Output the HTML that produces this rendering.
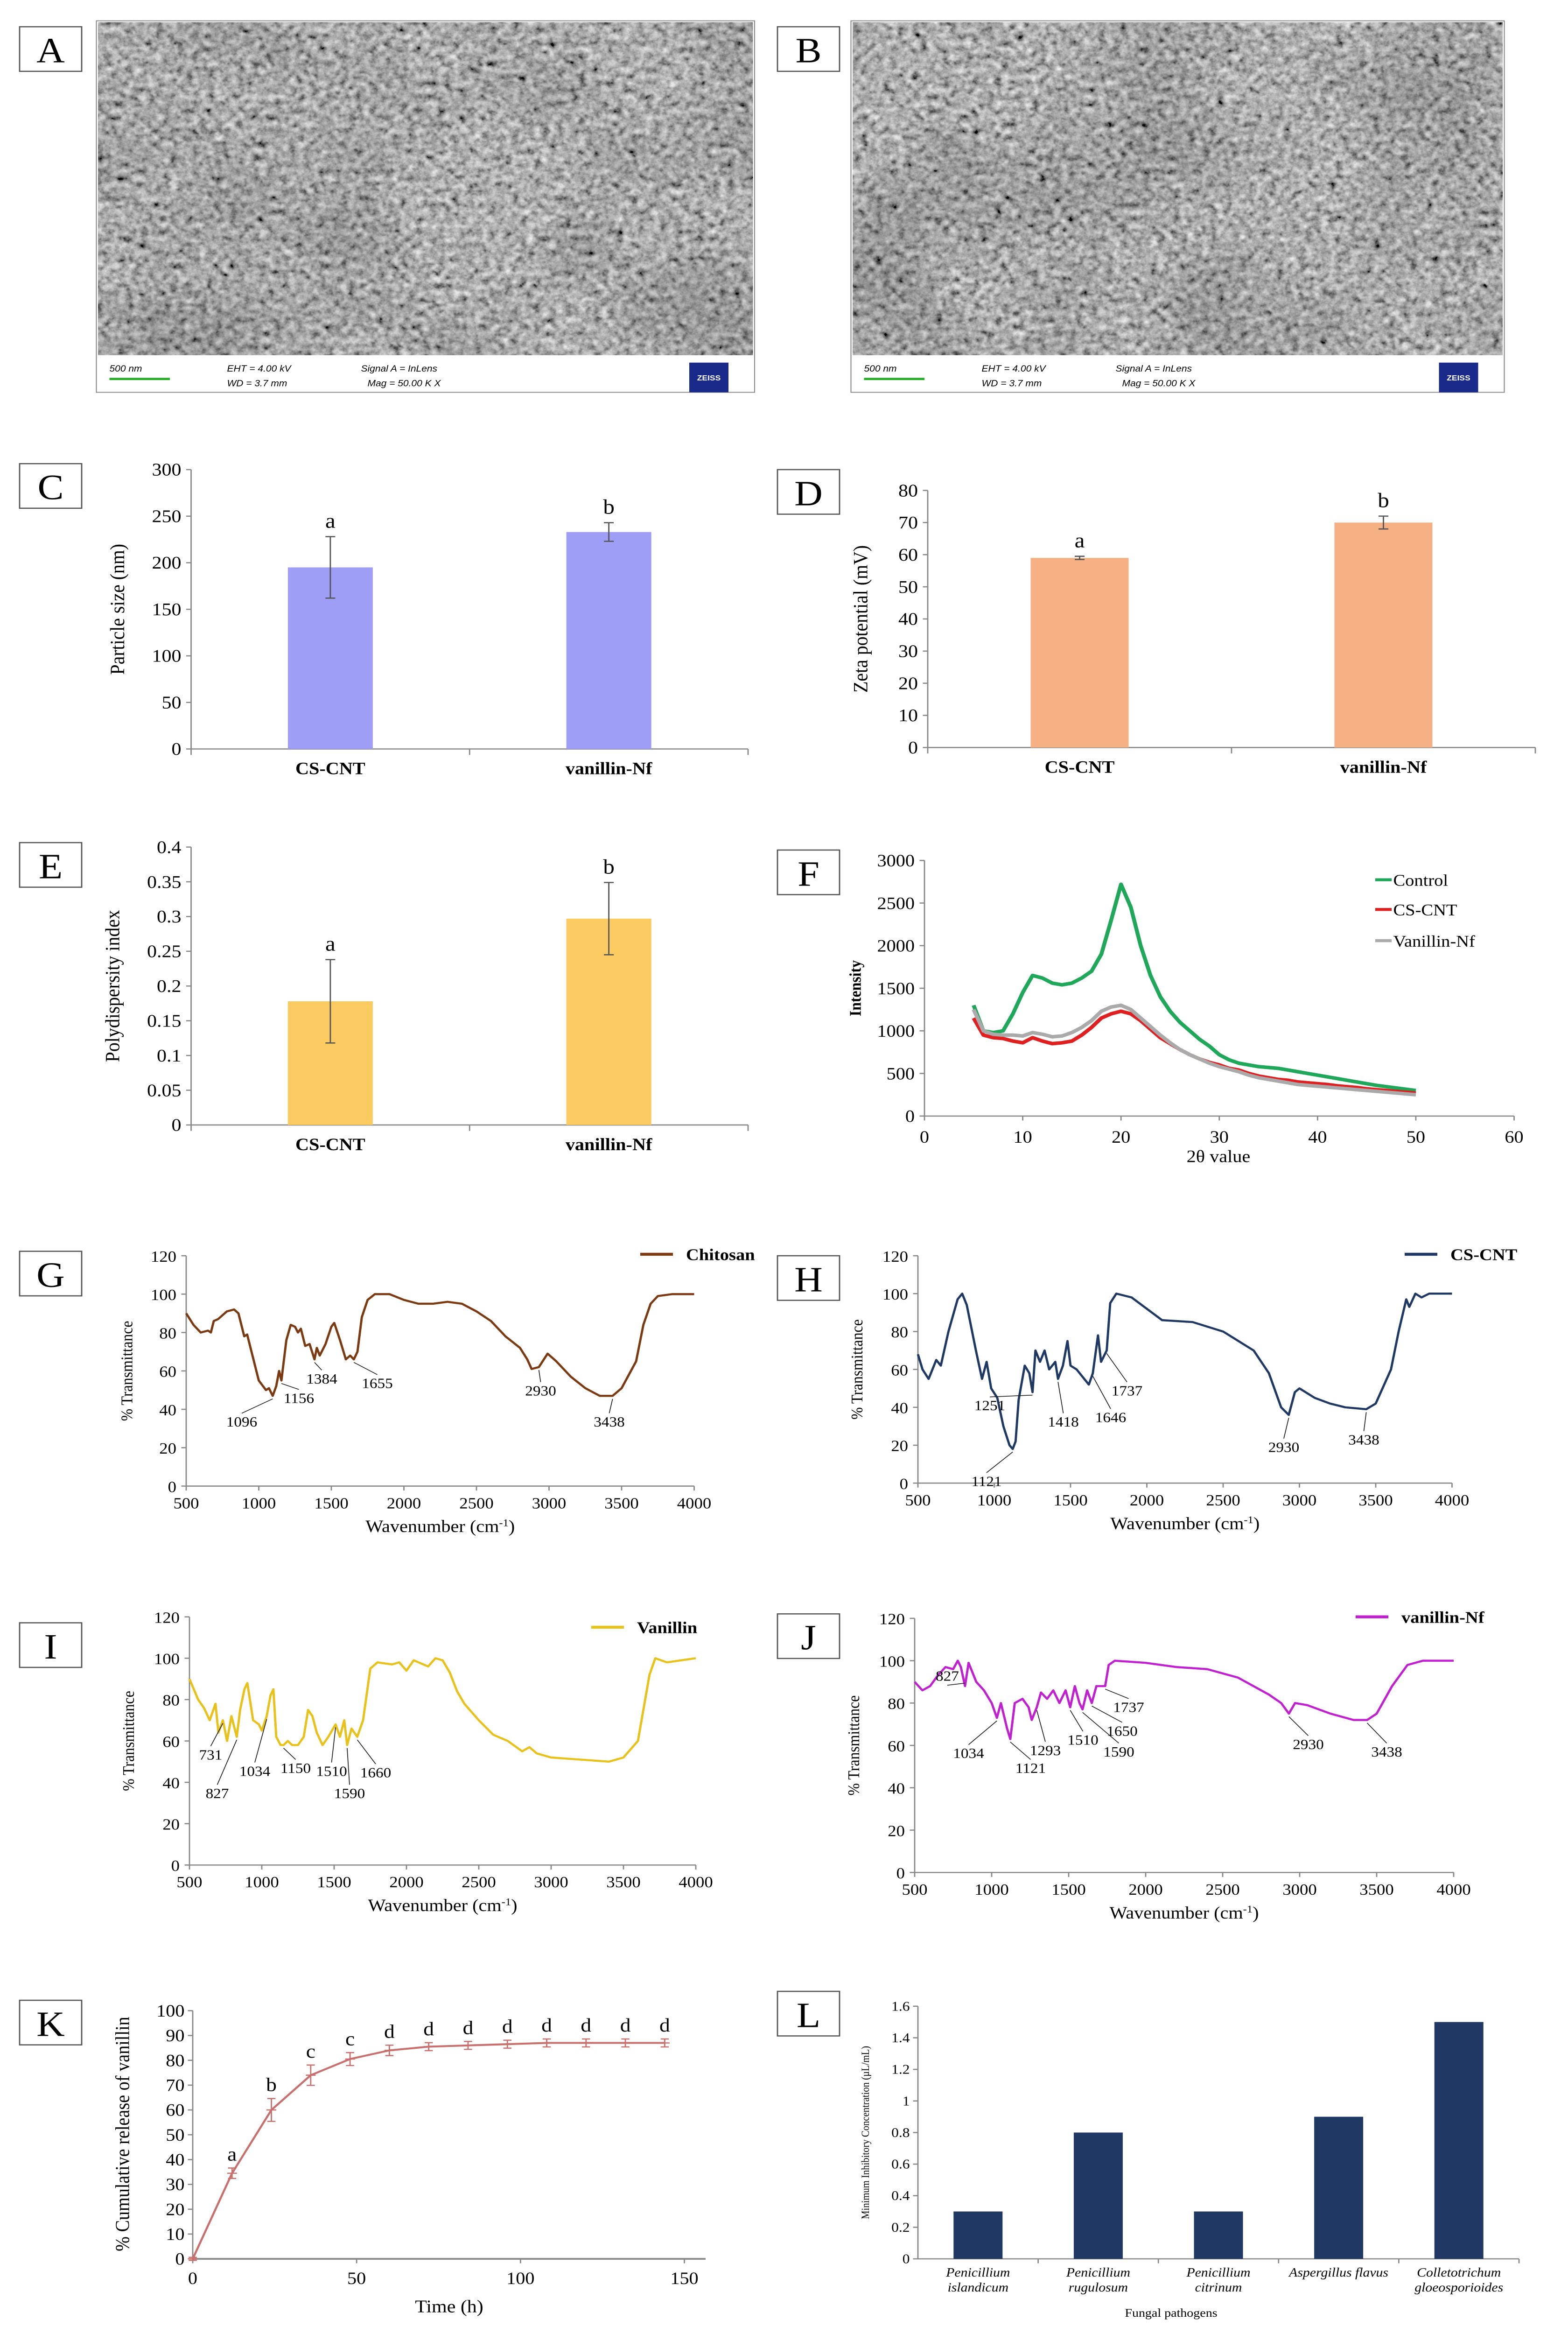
<!DOCTYPE html>
<html><head><meta charset="utf-8">
<style>
html,body{margin:0;padding:0;background:#fff;overflow:hidden;width:100%;height:100%;}
svg{display:block;font-family:"Liberation Serif",serif;width:100vw;height:100vh;}
</style></head>
<body>
<svg id="fig" xmlns="http://www.w3.org/2000/svg" viewBox="0 0 960 1570.57" preserveAspectRatio="none">
<defs>
<filter id="sem" x="0" y="0" width="100%" height="100%">
<feTurbulence type="fractalNoise" baseFrequency="0.22" numOctaves="3" seed="4" result="n"/>
<feColorMatrix type="matrix" values="0.33 0.33 0.33 0 0  0.33 0.33 0.33 0 0  0.33 0.33 0.33 0 0  0 0 0 0 1" result="g"/>
<feComponentTransfer><feFuncR type="linear" slope="1.7" intercept="-0.42"/><feFuncG type="linear" slope="1.7" intercept="-0.42"/><feFuncB type="linear" slope="1.7" intercept="-0.42"/></feComponentTransfer>
</filter>
<filter id="sem2" x="0" y="0" width="100%" height="100%">
<feTurbulence type="fractalNoise" baseFrequency="0.012" numOctaves="2" seed="9"/>
<feColorMatrix type="matrix" values="0 0 0 0 0  0 0 0 0 0  0 0 0 0 0  0.9 0 0 0 -0.35"/>
</filter>
</defs>
<g id="root"></g>
</svg>
<script>
// ---------- data ----------
const barCats = ['CS-CNT', 'vanillin-Nf'];
const sizeVals = [195, 233];
const sizeErr = [33, 10];
const sizeLetters = ['a', 'b'];
const sizeTicks = [0, 50, 100, 150, 200, 250, 300];
const zetaVals = [59, 70];
const zetaErr = [0.5, 2];
const zetaLetters = ['a', 'b'];
const zetaTicks = [0, 10, 20, 30, 40, 50, 60, 70, 80];
const pdiVals = [0.178, 0.297];
const pdiErr = [0.06, 0.052];
const pdiLetters = ['a', 'b'];
const pdiTicks = [0, 0.05, 0.1, 0.15, 0.2, 0.25, 0.3, 0.35, 0.4];

const xrdTheta = [5,6,7,8,9,10,11,12,13,14,15,16,17,18,19,20,21,22,23,24,25,26,27,28,29,30,31,32,33,34,35,36,37,38,39,40,41,42,43,44,45,46,47,48,49,50];
const xrdControl = [1300,1000,980,1000,1200,1450,1650,1620,1560,1540,1560,1620,1700,1900,2300,2720,2450,2000,1650,1400,1230,1100,1000,900,820,720,660,620,600,580,570,560,540,520,500,480,460,440,420,400,380,360,345,330,315,300];
const xrdCSCNT = [1150,950,920,910,880,860,920,880,850,860,880,950,1040,1150,1200,1230,1200,1120,1020,920,850,780,720,670,630,600,560,540,500,470,450,430,420,400,390,380,370,355,345,335,320,310,300,290,280,270];
const xrdVan = [1250,1000,960,950,950,940,980,960,930,940,980,1040,1120,1230,1280,1300,1250,1150,1050,950,860,780,720,670,620,580,550,520,480,450,430,410,390,370,360,350,340,330,320,310,300,290,280,270,260,250];
const xrdTicksY = [0,500,1000,1500,2000,2500,3000];
const xrdTicksX = [0,10,20,30,40,50,60];

const chitWn = [500,550,600,650,670,690,720,780,830,860,900,920,950,1000,1050,1070,1096,1120,1140,1156,1190,1220,1250,1270,1290,1320,1350,1384,1400,1420,1460,1500,1520,1560,1600,1630,1655,1680,1710,1750,1800,1900,2000,2100,2200,2300,2400,2500,2600,2700,2800,2850,2880,2930,2990,3050,3150,3250,3350,3438,3500,3600,3650,3700,3750,3850,4000];
const chitT = [90,84,80,81,80,86,87,91,92,90,78,79,70,55,50,51,47,52,60,55,76,84,83,80,82,73,74,66,72,68,74,83,85,76,66,68,66,70,88,97,100,100,97,95,95,96,95,91,86,78,72,66,61,62,69,65,57,51,47,47,51,65,84,95,99,100,100];
const chitPeaks = ['1096','1156','1384','1655','2930','3438'];

const cntWn = [500,530,570,620,650,700,760,790,820,850,880,920,950,980,1020,1060,1100,1121,1140,1160,1200,1230,1251,1270,1300,1330,1360,1400,1418,1450,1480,1500,1540,1580,1620,1646,1680,1700,1737,1760,1800,1900,2000,2100,2300,2500,2600,2700,2800,2880,2930,2970,3000,3100,3200,3300,3438,3500,3600,3650,3700,3720,3760,3800,3850,4000];
const cntT = [68,60,55,65,62,80,97,100,94,82,70,55,64,50,45,30,20,18,22,44,62,58,48,70,64,70,60,64,55,62,75,62,60,56,52,58,78,64,70,95,100,98,92,86,85,80,75,70,58,40,36,48,50,45,42,40,39,42,60,80,97,93,100,98,100,100];
const cntPeaks = ['1121','1251','1418','1646','1737','2930','3438'];

const vanWn = [500,530,560,600,640,680,700,731,760,790,827,850,880,900,940,980,1000,1034,1060,1080,1100,1130,1150,1180,1210,1250,1290,1320,1350,1380,1420,1460,1510,1540,1570,1590,1620,1660,1700,1750,1800,1900,1950,2000,2050,2150,2200,2250,2300,2350,2400,2500,2600,2700,2800,2850,2900,3000,3200,3400,3500,3600,3680,3720,3800,3900,4000];
const vanT = [90,85,80,76,70,78,64,70,60,72,62,75,85,88,70,68,65,72,82,85,62,58,58,60,58,58,62,75,72,64,58,62,68,62,70,58,66,62,70,95,98,97,98,94,99,96,100,99,93,84,78,70,63,60,55,57,54,52,51,50,52,60,92,100,98,99,100];
const vanPeaks = ['731','827','1034','1150','1510','1590','1660'];

const nfWn = [500,550,600,650,700,750,780,800,827,850,900,950,1000,1034,1060,1100,1121,1150,1200,1240,1260,1293,1320,1360,1400,1440,1480,1510,1540,1570,1590,1620,1650,1680,1737,1760,1800,2000,2200,2400,2600,2700,2800,2880,2930,2970,3050,3200,3350,3438,3500,3600,3700,3800,4000];
const nfT = [90,86,88,93,97,96,100,97,88,99,90,86,80,73,80,68,63,80,82,78,72,78,85,82,86,80,86,78,88,80,77,86,80,88,88,98,100,99,97,96,92,88,84,80,75,80,79,75,72,72,75,88,98,100,100];
const nfPeaks = ['827','1034','1121','1293','1510','1590','1650','1737','2930','3438'];

const ftirTicksX = [500,1000,1500,2000,2500,3000,3500,4000];
const ftirTicksY = [0,20,40,60,80,100,120];

const relTime = [0,12,24,36,48,60,72,84,96,108,120,132,144];
const relVals = [0,34.5,60,74,80.5,84,85.5,86,86.5,87,87,87,87];
const relErr = [0,1.5,4,3.5,2,1.5,1,1,1,1,1,1,1];
const relLetters = ['','a','b','c','c','d','d','d','d','d','d','d','d'];
const relTicksY = [0,10,20,30,40,50,60,70,80,90,100];
const relTicksX = [0,50,100,150];

const micCats = [['Penicillium','islandicum'],['Penicillium','rugulosum'],['Penicillium','citrinum'],['Aspergillus flavus'],['Colletotrichum','gloeosporioides']];
const micVals = [0.3, 0.8, 0.3, 0.9, 1.5];
const micTicks = [0,0.2,0.4,0.6,0.8,1,1.2,1.4,1.6];

// ---------- helpers ----------
const NS = 'http://www.w3.org/2000/svg';
const root = document.getElementById('root');
function mk(tag, attrs, parent) {
  const el = document.createElementNS(NS, tag);
  for (const k in attrs) el.setAttribute(k, attrs[k]);
  (parent || root).appendChild(el);
  return el;
}
function nm(el, name, inter) {
  
  
  return el;
}
function txt(x, y, s, opt, parent) {
  opt = opt || {};
  const t = mk('text', {x: x, y: y, 'font-size': opt.size || 11, 'text-anchor': opt.anchor || 'middle', fill: opt.fill || '#000', 'font-weight': opt.weight || 'normal', 'font-style': opt.style || 'normal', 'font-family': opt.family || '"Liberation Serif", serif'}, parent);
  if (opt.rot) t.setAttribute('transform', 'rotate(-90 ' + x + ' ' + y + ')');
  t.textContent = s;
  return t;
}
function panelLabel(x, y, L) {
  const g = mk('g', {});
  nm(g, 'panel-label-' + L.toLowerCase(), false);
  mk('rect', {x: x, y: y, width: 38, height: 30, fill: '#fff', stroke: '#555', 'stroke-width': 0.8}, g);
  txt(x + 19, y + 24, L, {size: 24}, g);
}
function lin(v, d0, d1, p0, p1) { return p0 + (v - d0) / (d1 - d0) * (p1 - p0); }
function fmt(v) { return String(Math.round(v * 1000) / 1000); }

// ---------- SEM images ----------
function sem(x, y, w, h, L) {
  const g = mk('g', {});
  nm(g, 'sem-image-' + L.toLowerCase(), false);
  mk('rect', {x: x, y: y, width: w, height: h, fill: '#fff', stroke: '#888', 'stroke-width': 0.6}, g);
  mk('rect', {x: x + 1, y: y + 1, width: w - 2, height: 224, fill: '#666', filter: 'url(#sem)'}, g);
  mk('rect', {x: x + 1, y: y + 1, width: w - 2, height: 224, fill: '#000', filter: 'url(#sem2)', opacity: 0.4}, g);
  const by = y + 228;
  const sf = '"Liberation Sans", sans-serif';
  txt(x + 8, by + 8, '500 nm', {size: 6, anchor: 'start', family: sf, style: 'italic'}, g);
  mk('line', {x1: x + 8, y1: by + 13, x2: x + 45, y2: by + 13, stroke: '#2a2', 'stroke-width': 1.5}, g);
  txt(x + 80, by + 8, 'EHT =  4.00 kV', {size: 6, anchor: 'start', family: sf, style: 'italic'}, g);
  txt(x + 80, by + 18, 'WD =  3.7 mm', {size: 6, anchor: 'start', family: sf, style: 'italic'}, g);
  txt(x + 162, by + 8, 'Signal A = InLens', {size: 6, anchor: 'start', family: sf, style: 'italic'}, g);
  txt(x + 166, by + 18, 'Mag =  50.00 K X', {size: 6, anchor: 'start', family: sf, style: 'italic'}, g);
  const z = mk('rect', {x: x + w - 40, y: by + 2, width: 24, height: 20, fill: '#1a2a8a'}, g);
  nm(z, 'zeiss-logo', false);
  txt(x + w - 28, by + 14, 'ZEISS', {size: 5, fill: '#fff', weight: 'bold', family: sf}, g);
}
sem(59, 14, 403, 250, 'A');
sem(521, 14, 400, 250, 'B');
panelLabel(12, 18, 'A');
panelLabel(476, 18, 'B');

// ---------- bar charts ----------
function barChart(o) {
  const g = mk('g', {});
  nm(g, o.name, false);
  const ymax = o.ticks[o.ticks.length - 1];
  const Y = v => lin(v, 0, ymax, o.y0, o.y1);
  const n = o.vals.length;
  const cw = (o.x1 - o.x0) / n;
  o.ticks.forEach(t => {
    const tl = txt(o.x0 - 6, Y(t) + 4, fmt(t), {size: 12, anchor: 'end'}, g);
    nm(tl, 'y-tick-label', false);
    mk('line', {x1: o.x0 - 3, y1: Y(t), x2: o.x0, y2: Y(t), stroke: '#888', 'stroke-width': 0.8}, g);
  });
  const ax = mk('line', {x1: o.x0, y1: o.y1, x2: o.x0, y2: o.y0, stroke: '#888', 'stroke-width': 0.8}, g);
  nm(ax, 'y-axis', false);
  const bx = mk('line', {x1: o.x0, y1: o.y0, x2: o.x1, y2: o.y0, stroke: '#888', 'stroke-width': 0.8}, g);
  nm(bx, 'x-axis', false);
  for (let i = 0; i <= n; i++) mk('line', {x1: o.x0 + i * cw, y1: o.y0, x2: o.x0 + i * cw, y2: o.y0 + 4, stroke: '#888', 'stroke-width': 0.8}, g);
  o.vals.forEach((v, i) => {
    const cx = o.x0 + cw * (i + 0.5);
    const r = mk('rect', {x: cx - o.bw / 2, y: Y(v), width: o.bw, height: o.y0 - Y(v), fill: o.color}, g);
    nm(r, 'bar-' + o.cats[i].toLowerCase(), false);
    if (o.err) {
      const e = o.err[i];
      const eg = mk('path', {d: `M${cx} ${Y(v + e)}V${Y(v - e)}M${cx - 3} ${Y(v + e)}h6M${cx - 3} ${Y(v - e)}h6`, stroke: '#555', 'stroke-width': 0.8, fill: 'none'}, g);
      nm(eg, 'error-bar', false);
      const lt = txt(cx, Y(v + e) - 6, o.letters[i], {size: 14}, g);
      nm(lt, 'significance-letter', false);
    }
    const cl = txt(cx, o.y0 + 17, o.cats[i], {size: 11.5, weight: 'bold'}, g);
    nm(cl, 'x-category-label', false);
  });
  const yt = txt(o.tx, (o.y0 + o.y1) / 2, o.title, {size: 12.5, rot: true}, g);
  nm(yt, 'y-axis-title', false);
}
barChart({name: 'particle-size-chart', cats: barCats, vals: sizeVals, err: sizeErr, letters: sizeLetters, ticks: sizeTicks, x0: 117, x1: 458, y0: 504, y1: 316, bw: 52, color: '#9e9ef7', title: 'Particle size (nm)', tx: 76});
barChart({name: 'zeta-potential-chart', cats: barCats, vals: zetaVals, err: zetaErr, letters: zetaLetters, ticks: zetaTicks, x0: 568, x1: 940, y0: 503, y1: 330, bw: 60, color: '#f5b183', title: 'Zeta potential (mV)', tx: 531});
barChart({name: 'polydispersity-chart', cats: barCats, vals: pdiVals, err: pdiErr, letters: pdiLetters, ticks: pdiTicks, x0: 117, x1: 458, y0: 757, y1: 570, bw: 52, color: '#fbcb62', title: 'Polydispersity index', tx: 73});
panelLabel(12, 312, 'C');
panelLabel(476, 316, 'D');
panelLabel(12, 567, 'E');

// ---------- XRD chart ----------
(function () {
  const g = mk('g', {});
  nm(g, 'xrd-chart', false);
  const x0 = 566, x1 = 927, y0 = 751, y1 = 579;
  const X = v => lin(v, 0, 60, x0, x1), Y = v => lin(v, 0, 3000, y0, y1);
  xrdTicksY.forEach(t => {
    const l = txt(x0 - 6, Y(t) + 4, String(t), {size: 11.5, anchor: 'end'}, g);
    nm(l, 'y-tick-label', false);
    mk('line', {x1: x0 - 3, y1: Y(t), x2: x0, y2: Y(t), stroke: '#888', 'stroke-width': 0.8}, g);
  });
  xrdTicksX.forEach(t => {
    const l = txt(X(t), y0 + 18, String(t), {size: 11.5}, g);
    nm(l, 'x-tick-label', false);
    mk('line', {x1: X(t), y1: y0, x2: X(t), y2: y0 + 3, stroke: '#888', 'stroke-width': 0.8}, g);
  });
  mk('line', {x1: x0, y1: y0, x2: x0, y2: y1, stroke: '#888', 'stroke-width': 0.8}, g);
  mk('line', {x1: x0, y1: y0, x2: x1, y2: y0, stroke: '#888', 'stroke-width': 0.8}, g);
  const series = [[xrdControl, '#1fa85a', 'control'], [xrdCSCNT, '#e02020', 'cs-cnt'], [xrdVan, '#aaaaaa', 'vanillin-nf']];
  series.forEach(s => {
    const p = mk('polyline', {points: xrdTheta.map((t, i) => X(t) + ',' + Y(s[0][i])).join(' '), fill: 'none', stroke: s[1], 'stroke-width': 2.4, 'stroke-linejoin': 'round'}, g);
    nm(p, 'xrd-line-' + s[2], false);
  });
  const leg = [['Control', '#1fa85a', 596], ['CS-CNT', '#e02020', 616], ['Vanillin-Nf', '#aaaaaa', 637]];
  leg.forEach(l => {
    const lg = mk('g', {}, g);
    nm(lg, 'legend-entry-' + l[0].toLowerCase(), false);
    mk('line', {x1: 842, y1: l[2] - 4, x2: 852, y2: l[2] - 4, stroke: l[1], 'stroke-width': 2}, lg);
    txt(853, l[2], l[0], {size: 11, anchor: 'start'}, lg);
  });
  const yt = txt(527, 665, 'Intensity', {size: 10, rot: true, weight: 'bold'}, g);
  nm(yt, 'y-axis-title', false);
  const xt = txt(746, 782, '2θ value', {size: 11.5}, g);
  nm(xt, 'x-axis-title', false);
})();
panelLabel(476, 572, 'F');

// ---------- FTIR charts ----------
function ftir(o) {
  const g = mk('g', {});
  nm(g, o.name, false);
  const X = v => lin(v, 500, 4000, o.x0, o.x1), Y = v => lin(v, 0, 120, o.y0, o.y1);
  ftirTicksY.forEach(t => {
    const l = txt(o.x0 - 6, Y(t) + 4, String(t), {size: 10.5, anchor: 'end'}, g);
    nm(l, 'y-tick-label', false);
    mk('line', {x1: o.x0 - 3, y1: Y(t), x2: o.x0, y2: Y(t), stroke: '#888', 'stroke-width': 0.8}, g);
  });
  ftirTicksX.forEach(t => {
    const l = txt(X(t), o.y0 + 15, String(t), {size: 10.5}, g);
    nm(l, 'x-tick-label', false);
    mk('line', {x1: X(t), y1: o.y0, x2: X(t), y2: o.y0 + 3, stroke: '#888', 'stroke-width': 0.8}, g);
  });
  mk('line', {x1: o.x0, y1: o.y0, x2: o.x0, y2: o.y1, stroke: '#888', 'stroke-width': 0.8}, g);
  mk('line', {x1: o.x0, y1: o.y0, x2: o.x1, y2: o.y0, stroke: '#888', 'stroke-width': 0.8}, g);
  const p = mk('polyline', {points: o.wn.map((w, i) => X(w) + ',' + Y(o.t[i])).join(' '), fill: 'none', stroke: o.color, 'stroke-width': 1.4, 'stroke-linejoin': 'round'}, g);
  nm(p, 'spectrum-line', false);
  const interp = w => { for (let i = 1; i < o.wn.length; i++) if (w <= o.wn[i]) return o.t[i - 1] + (o.t[i] - o.t[i - 1]) * (w - o.wn[i - 1]) / (o.wn[i] - o.wn[i - 1]); return o.t[o.t.length - 1]; };
  o.peaks.forEach((pk, i) => {
    const w = +pk, px = X(w), py = Y(interp(w));
    const lp = o.lpos[i];
    const ag = mk('g', {}, g);
    nm(ag, 'peak-annotation-' + pk, false);
    const ty = lp[1] < py ? lp[1] + 3 : lp[1] - 9;
    mk('line', {x1: lp[0], y1: ty, x2: px, y2: py + (lp[1] < py ? -2 : 2), stroke: '#222', 'stroke-width': 0.5}, ag);
    txt(lp[0], lp[1], pk, {size: 9.5}, ag);
  });
  const lg = mk('g', {}, g);
  nm(lg, 'legend-entry', false);
  mk('line', {x1: o.leg[0], y1: o.leg[1] - 4, x2: o.leg[0] + 20, y2: o.leg[1] - 4, stroke: o.color, 'stroke-width': 2}, lg);
  txt(o.leg[0] + 28, o.leg[1], o.label, {size: 11, anchor: 'start', weight: 'bold'}, lg);
  const yt = txt(o.tx, (o.y0 + o.y1) / 2, '% Transmittance', {size: 10, rot: true}, g);
  nm(yt, 'y-axis-title', false);
  const xt = txt((o.x0 + o.x1) / 2, o.y0 + 31, 'Wavenumber (cm', {size: 11.5}, g);
  nm(xt, 'x-axis-title', false);
  const sup = mk('tspan', {dy: -4, 'font-size': 7}, xt); sup.textContent = '-1';
  const cl = mk('tspan', {dy: 4}, xt); cl.textContent = ')';
}
ftir({name: 'ftir-chitosan-chart', wn: chitWn, t: chitT, peaks: chitPeaks, color: '#7b3a12', label: 'Chitosan', x0: 114, x1: 425, y0: 1000, y1: 845, tx: 81, leg: [392, 848],
  lpos: [[148, 960], [183, 944], [197, 931], [231, 934], [331, 939], [373, 960]]});
ftir({name: 'ftir-cs-cnt-chart', wn: cntWn, t: cntT, peaks: cntPeaks, color: '#1f3864', label: 'CS-CNT', x0: 562, x1: 889, y0: 998, y1: 845, tx: 528, leg: [860, 848],
  lpos: [[604, 1000], [606, 949], [651, 960], [680, 957], [690, 939], [786, 977], [835, 972]]});
ftir({name: 'ftir-vanillin-chart', wn: vanWn, t: vanT, peaks: vanPeaks, color: '#e8c21a', label: 'Vanillin', x0: 116, x1: 426, y0: 1255, y1: 1088, tx: 82, leg: [362, 1099],
  lpos: [[129, 1184], [133, 1210], [156, 1195], [181, 1193], [203, 1195], [214, 1210], [230, 1196]]});
ftir({name: 'ftir-vanillin-nf-chart', wn: nfWn, t: nfT, peaks: nfPeaks, color: '#c020d0', label: 'vanillin-Nf', x0: 560, x1: 890, y0: 1260, y1: 1089, tx: 526, leg: [830, 1092],
  lpos: [[580, 1131], [593, 1183], [631, 1193], [640, 1181], [663, 1174], [685, 1182], [687, 1168], [691, 1152], [801, 1177], [849, 1182]]});
panelLabel(12, 842, 'G');
panelLabel(476, 845, 'H');
panelLabel(12, 1092, 'I');
panelLabel(476, 1086, 'J');

// ---------- release chart ----------
(function () {
  const g = mk('g', {});
  nm(g, 'release-chart', false);
  const x0 = 118, y0 = 1520, y1 = 1353;
  const X = v => lin(v, 0, 150, x0, 419), Y = v => lin(v, 0, 100, y0, y1);
  relTicksY.forEach(t => {
    const l = txt(x0 - 5, Y(t) + 4, String(t), {size: 11.5, anchor: 'end'}, g);
    nm(l, 'y-tick-label', false);
    mk('line', {x1: x0 - 3, y1: Y(t), x2: x0, y2: Y(t), stroke: '#888', 'stroke-width': 0.8}, g);
  });
  relTicksX.forEach(t => {
    const l = txt(X(t), y0 + 17, String(t), {size: 11.5}, g);
    nm(l, 'x-tick-label', false);
    mk('line', {x1: X(t), y1: y0, x2: X(t), y2: y0 + 3, stroke: '#888', 'stroke-width': 0.8}, g);
  });
  mk('line', {x1: x0, y1: y0, x2: x0, y2: y1, stroke: '#888', 'stroke-width': 0.8}, g);
  mk('line', {x1: x0, y1: y0, x2: 432, y2: y0, stroke: '#888', 'stroke-width': 1.2}, g);
  const p = mk('polyline', {points: relTime.map((t, i) => X(t) + ',' + Y(relVals[i])).join(' '), fill: 'none', stroke: '#c8706e', 'stroke-width': 1.3}, g);
  nm(p, 'release-line', false);
  relTime.forEach((t, i) => {
    const cx = X(t), v = relVals[i], e = relErr[i];
    const m = mk('path', {d: `M${cx} ${Y(v + e) - 1}V${Y(v - e) + 1}M${cx - 2.5} ${Y(v + e) - 1}h5M${cx - 2.5} ${Y(v - e) + 1}h5M${cx - 3} ${Y(v)}h6`, stroke: '#c8706e', 'stroke-width': 0.8, fill: 'none'}, g);
    nm(m, 'release-point', false);
    if (relLetters[i]) {
      const l = txt(cx, Y(v + e) - 6, relLetters[i], {size: 13}, g);
      nm(l, 'significance-letter', false);
    }
  });
  const yt = txt(79, 1436, '% Cumulative release of vanillin', {size: 12, rot: true}, g);
  nm(yt, 'y-axis-title', false);
  const xt = txt(275, 1556, 'Time (h)', {size: 12}, g);
  nm(xt, 'x-axis-title', false);
})();
panelLabel(12, 1346, 'K');

// ---------- MIC chart ----------
(function () {
  const g = mk('g', {});
  nm(g, 'mic-chart', false);
  const x0 = 562, x1 = 930, y0 = 1520, y1 = 1350;
  const Y = v => lin(v, 0, 1.6, y0, y1);
  const cw = (x1 - x0) / micVals.length;
  micTicks.forEach(t => {
    const l = txt(x0 - 5, Y(t) + 3, fmt(t), {size: 9, anchor: 'end'}, g);
    nm(l, 'y-tick-label', false);
    mk('line', {x1: x0 - 3, y1: Y(t), x2: x0, y2: Y(t), stroke: '#888', 'stroke-width': 0.8}, g);
  });
  mk('line', {x1: x0, y1: y0, x2: x0, y2: y1, stroke: '#888', 'stroke-width': 0.8}, g);
  mk('line', {x1: x0, y1: y0, x2: x1, y2: y0, stroke: '#888', 'stroke-width': 0.8}, g);
  micVals.forEach((v, i) => {
    const cx = x0 + cw * (i + 0.5);
    mk('line', {x1: x0 + cw * (i + 1), y1: y0, x2: x0 + cw * (i + 1), y2: y0 + 3, stroke: '#888', 'stroke-width': 0.8}, g);
    const r = mk('rect', {x: cx - 15, y: Y(v), width: 30, height: y0 - Y(v), fill: '#1f3864'}, g);
    nm(r, 'bar-' + micCats[i].join('-').toLowerCase().replace(/ /g, '-'), false);
    micCats[i].forEach((s, j) => {
      const l = txt(cx, y0 + 12 + j * 10, s, {size: 8.5, style: 'italic'}, g);
      nm(l, 'x-category-label', false);
    });
  });
  const yt = txt(532, 1435, 'Minimum Inhibitory Concentration (µL/mL)', {size: 6.5, rot: true}, g);
  nm(yt, 'y-axis-title', false);
  const xt = txt(717, 1559, 'Fungal pathogens', {size: 8}, g);
  nm(xt, 'x-axis-title', false);
})();
panelLabel(476, 1340, 'L');
</script>
</body></html>
